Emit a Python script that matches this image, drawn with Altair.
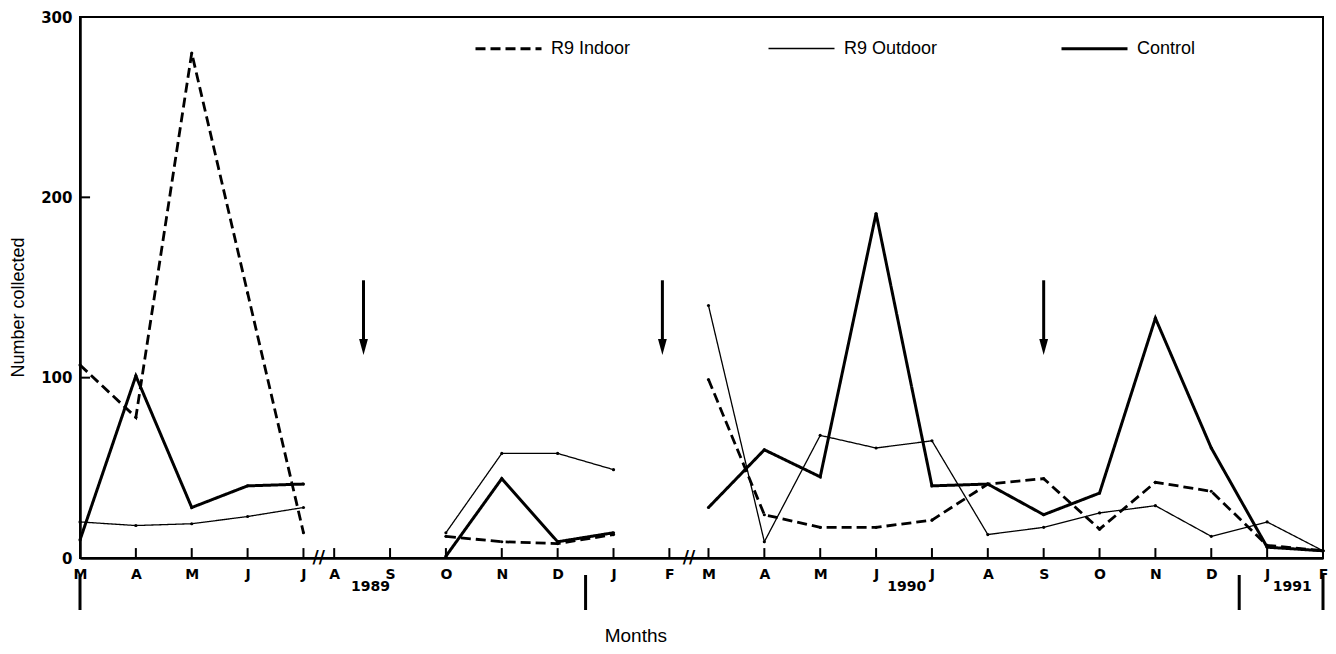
import json
import altair as alt
import pandas as pd

# ---- data ----------------------------------------------------------------
month_labels = ["M", "A", "M", "J", "J", "A", "S", "O", "N", "D", "J", "F",
                "M", "A", "M", "J", "J", "A", "S", "O", "N", "D", "J", "F"]
series_names = ["R9 Indoor", "R9 Outdoor", "Control"]
r9_indoor = [107, 78, 280, 147, 14, None, None, 12, 9, 8, 13, None,
             99, 24, 17, 17, 21, 41, 44, 16, 42, 37, 7, 4]
r9_outdoor = [20, 18, 19, 23, 28, None, None, 14, 58, 58, 49, None,
              140, 9, 68, 61, 65, 13, 17, 25, 29, 12, 20, 4]
control = [10, 101, 28, 40, 41, None, None, 1, 44, 9, 14, None,
           28, 60, 45, 191, 40, 41, 24, 36, 133, 61, 6, 4]
year_labels = ["1989", "1990", "1991"]

# axis position of each month (20 units per month, compressed at the two axis breaks)
def month_pos(i):
    return i * 20 - (9 if i >= 5 else 0) - (6 if i >= 12 else 0)

def segment(i):
    return 1 if i < 5 else (2 if i < 12 else 3)

positions = [month_pos(i) for i in range(len(month_labels))]

rows = []
for name, vals in zip(series_names, [r9_indoor, r9_outdoor, control]):
    for i, v in enumerate(vals):
        if v is not None:
            rows.append({"series": name, "pos": positions[i], "value": v, "seg": segment(i)})
df = pd.DataFrame(rows)

W, H = 1243, 541
xscale = alt.Scale(domain=[0, positions[-1]], nice=False, zero=False)
yscale = alt.Scale(domain=[0, 300], nice=False)

label_expr = "{}[indexof({}, datum.value)]".format(json.dumps(month_labels), json.dumps(positions))

x_axis = alt.Axis(values=positions, labelExpr=label_expr, ticks=False, grid=False,
                  domainColor="black", domainWidth=2.5, labelFont="DejaVu Sans",
                  labelFontWeight="bold", labelFontSize=14, labelColor="black",
                  labelPadding=9, labelFlush=False, labelOverlap=False, title=None)
y_axis = alt.Axis(values=[0, 100, 200, 300], ticks=False, grid=False,
                  domainColor="black", domainWidth=2.5, labelFont="DejaVu Sans",
                  labelFontWeight="bold", labelFontSize=15, labelColor="black",
                  labelPadding=8, labelFlush=False,
                  title="Number collected", titleFont="Liberation Sans",
                  titleFontSize=18, titleFontWeight="normal", titleColor="black",
                  titleX=-62, titleY=290, titleAlign="center", titleBaseline="middle")

legend = alt.Legend(title=None, orient="none", legendX=394, legendY=-3,
                    direction="horizontal", columns=3, gridAlign="all",
                    columnPadding=117, symbolType="stroke", symbolSize=4356,
                    symbolStrokeColor="black", labelFont="Liberation Sans",
                    labelFontSize=18, labelColor="black", labelOffset=8, padding=0)

lines = alt.Chart(df).mark_line(color="black", strokeCap="butt").encode(
    x=alt.X("pos:Q", scale=xscale, axis=x_axis),
    y=alt.Y("value:Q", scale=yscale, axis=y_axis),
    strokeDash=alt.StrokeDash("series:N", scale=alt.Scale(domain=series_names,
                              range=[[10, 5], [1, 0], [1, 0]]), legend=legend),
    strokeWidth=alt.StrokeWidth("series:N", scale=alt.Scale(type="ordinal", domain=series_names,
                                range=[2.8, 1.3, 3.0]), legend=legend),
    detail="seg:N",
    order="pos:Q",
)

dots = alt.Chart(df).mark_circle(color="black", size=10, opacity=1).encode(
    x=alt.X("pos:Q", scale=xscale), y=alt.Y("value:Q", scale=yscale))

# inward axis ticks
xticks = alt.Chart(pd.DataFrame({"pos": positions[1:]})).mark_rule(
    color="black", strokeWidth=2).encode(
    x=alt.X("pos:Q", scale=xscale), y=alt.datum(0), y2=alt.datum(5.5))
yticks = alt.Chart(pd.DataFrame({"v": [100, 200]})).mark_rule(
    color="black", strokeWidth=2).encode(
    y=alt.Y("v:Q", scale=yscale), x=alt.datum(0), x2=alt.datum(3.6))

# axis break marks
breaks = alt.Chart(pd.DataFrame({"pos": [(positions[4] + positions[5]) / 2,
                                          (positions[11] + positions[12]) / 2],
                                  "t": ["//", "//"]})).mark_text(
    fontSize=17, fontWeight="bold", font="DejaVu Sans", color="black",
    baseline="middle", align="center").encode(
    x=alt.X("pos:Q", scale=xscale), y=alt.datum(0), text="t:N")

# arrows
arrow_df = pd.DataFrame({"pos": [101.5, 208.5, positions[18]]})
shafts = alt.Chart(arrow_df).mark_rule(color="black", strokeWidth=3).encode(
    x=alt.X("pos:Q", scale=xscale), y=alt.datum(154), y2=alt.datum(121))
heads = alt.Chart(arrow_df).mark_point(
    shape="M-0.55,-1L0.55,-1L0,1Z", size=256, filled=True, color="black",
    opacity=1).encode(x=alt.X("pos:Q", scale=xscale), y=alt.datum(117))

# year labels and separators below the axis
years = alt.Chart(pd.DataFrame({"pos": [104, 296, 434], "t": year_labels})).mark_text(
    fontSize=14, fontWeight="bold", font="DejaVu Sans", color="black",
    baseline="middle").encode(x=alt.X("pos:Q", scale=xscale), y=alt.value(570), text="t:N")
seps = alt.Chart(pd.DataFrame({"pos": [0, 181, 415, positions[-1]]})).mark_rule(
    color="black", strokeWidth=3).encode(
    x=alt.X("pos:Q", scale=xscale), y=alt.value(558), y2=alt.value(593))
months_title = alt.Chart(pd.DataFrame({"pos": [199], "t": ["Months"]})).mark_text(
    fontSize=19, font="Liberation Sans", color="black", baseline="middle").encode(
    x=alt.X("pos:Q", scale=xscale), y=alt.value(619), text="t:N")

chart = alt.layer(lines, dots, xticks, yticks, breaks, shafts, heads, years, seps,
                  months_title).properties(
    width=W, height=H,
    autosize=alt.AutoSizeParams(type="none"),
    padding={"left": 72, "top": 9, "right": 5, "bottom": 88},
).configure(
    background="white",
    view=alt.ViewConfig(stroke="black", strokeWidth=2),
)

chart.save("out.html", embed_options={"renderer": "svg", "actions": False})
